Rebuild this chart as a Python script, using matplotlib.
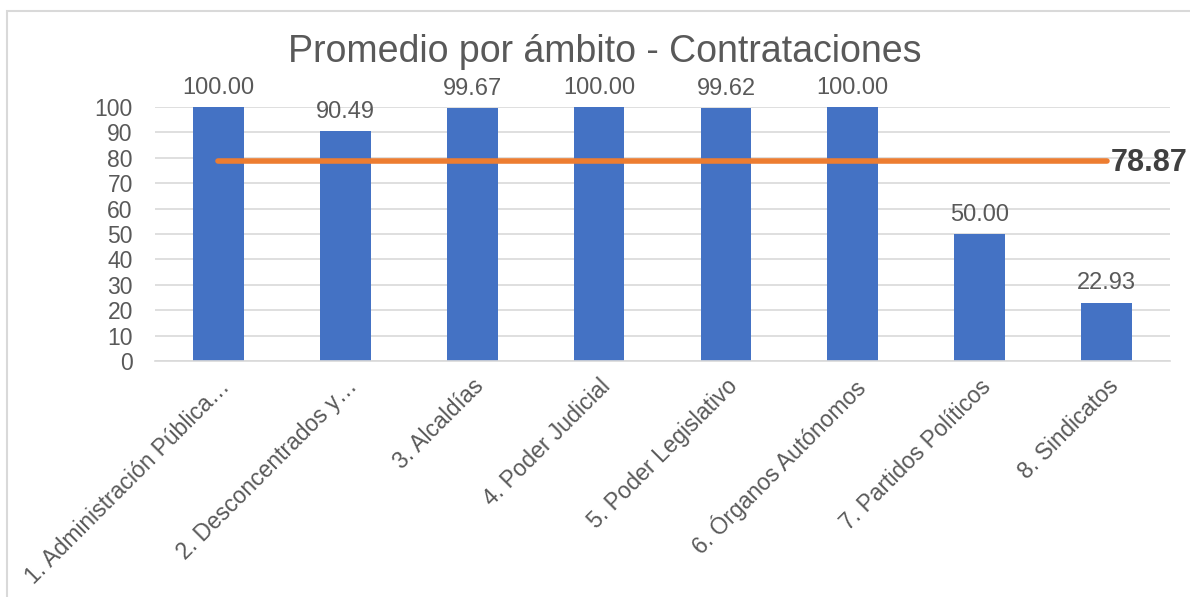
import matplotlib
matplotlib.use("Agg")
import matplotlib.pyplot as plt
from matplotlib.patches import Rectangle

categorias = [
    "1. Administración Pública…",
    "2. Desconcentrados y…",
    "3. Alcaldías",
    "4. Poder Judicial",
    "5. Poder Legislativo",
    "6. Órganos Autónomos",
    "7. Partidos Políticos",
    "8. Sindicatos",
]
valores = [100.00, 90.49, 99.67, 100.00, 99.62, 100.00, 50.00, 22.93]
promedio = 78.87
titulo = "Promedio por ámbito - Contrataciones"

AZUL = "#4472C4"
NARANJA = "#ED7D31"
GRIS = "#595959"
REJILLA = "#D9D9D9"

plt.rcParams["font.family"] = ["Liberation Sans", "DejaVu Sans"]

fig = plt.figure(figsize=(11.9, 5.97), dpi=100)
# marco del gráfico
fig.patches.append(Rectangle((7 / 1190, -0.05), 1.1, 1 - 11 / 597 + 0.05,
                             transform=fig.transFigure, fill=False,
                             ec=REJILLA, lw=1.5))
ax = fig.add_axes([155 / 1190, 1 - 361 / 597, (1170 - 155) / 1190, (361 - 107) / 597])

x = list(range(len(categorias)))
ax.bar(x, valores, width=0.40, color=AZUL, zorder=2)
for xi, v in zip(x, valores):
    ax.annotate(f"{v:.2f}", (xi, v), xytext=(0, 6), textcoords="offset points",
                ha="center", va="bottom", fontsize=17, color=GRIS)

ax.plot([x[0], x[-1]], [promedio, promedio], color=NARANJA, lw=4,
        solid_capstyle="round", zorder=3)
ax.annotate(f"{promedio:.2f}", (x[-1], promedio), xytext=(3, -2),
            textcoords="offset points", ha="left", va="center",
            fontsize=22, fontweight="bold", color="#404040")

ax.set_xlim(-0.5, len(categorias) - 0.5)
ax.set_ylim(0, 100)
ax.set_yticks(range(0, 101, 10))
ax.yaxis.grid(True, color=REJILLA, lw=1.2, zorder=0)
ax.set_axisbelow(True)
for s in ("top", "right", "left"):
    ax.spines[s].set_visible(False)
ax.spines["bottom"].set_color(REJILLA)
ax.spines["bottom"].set_linewidth(1.2)
ax.tick_params(axis="both", length=0, labelsize=16.5, colors=GRIS)
ax.tick_params(axis="y", pad=16)
ax.set_xticks(x)
ax.set_xticklabels(categorias, rotation=45, ha="right", va="top",
                   rotation_mode="anchor")
ax.tick_params(axis="x", pad=10)

fig.text(605 / 1190, 1 - 52 / 597, titulo, ha="center", va="center",
         fontsize=27, color=GRIS)

fig.savefig("out.png", dpi=100)
